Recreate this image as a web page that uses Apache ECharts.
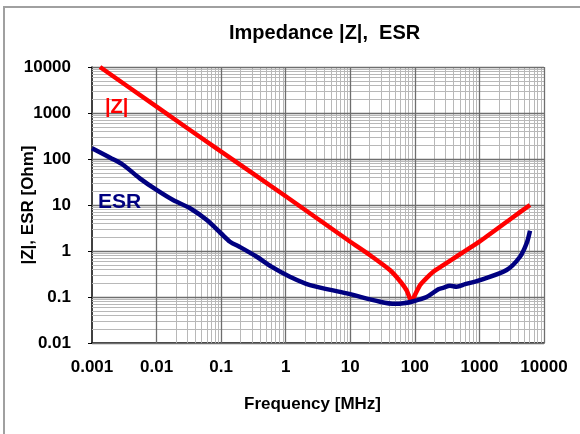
<!DOCTYPE html>
<html>
<head>
<meta charset="utf-8">
<script src="https://cdn.jsdelivr.net/npm/echarts@6/dist/echarts.min.js"></script>
<style>html,body{margin:0;padding:0;background:#fff;}#c{width:580px;height:434px;}</style>
</head>
<body>
<div id="c"></div>
<script>
// Frequency in MHz, values in Ohm
const freqZ = [0.00133, 0.01, 0.1, 1, 10, 20, 41, 60, 75, 89, 100, 120, 150, 193, 250, 500, 1000, 3000, 6070];
const valZ  = [10000, 1370, 144, 15.5, 1.59, 0.82, 0.386, 0.215, 0.137, 0.08, 0.11, 0.18, 0.255, 0.355, 0.45, 0.85, 1.6, 4.9, 10];

const freqESR = [0.001, 0.002, 0.00305, 0.0055, 0.01, 0.018, 0.033, 0.06, 0.1, 0.137, 0.2, 0.356, 0.6, 1.16, 2.38, 8.8, 28.9, 50, 66, 89, 152, 231, 280, 350, 444, 600, 1020, 2640, 4250, 5380, 6070];
const valESR  = [171, 103, 74, 38, 21.2, 12.8, 8.5, 4.7, 2.4, 1.59, 1.2, 0.75, 0.456, 0.276, 0.182, 0.12, 0.079, 0.071, 0.073, 0.079, 0.10, 0.147, 0.16, 0.176, 0.168, 0.19, 0.234, 0.386, 0.75, 1.47, 2.77];

const xTicks = [0.001, 0.01, 0.1, 1, 10, 100, 1000, 10000];
const yTicks = [0.01, 0.1, 1, 10, 100, 1000, 10000];

const FONT = "'Liberation Sans', Arial, sans-serif";

function fmt(v) {
  const e = Math.round(Math.log10(v));
  return e < 0 ? Number(v).toFixed(-e) : String(Math.round(v));
}

// log grid lines (minor 2..9 per decade, then majors)
const minorX = [], minorY = [];
for (let i = 0; i < xTicks.length - 1; i++) for (let m = 2; m <= 9; m++) minorX.push(xTicks[i] * m);
for (let i = 0; i < yTicks.length - 1; i++) for (let m = 2; m <= 9; m++) minorY.push(yTicks[i] * m);
const minorStyle = { color: '#b8b8b8', width: 1, type: 'solid' };
const majorStyle = { color: '#6e6e6e', width: 1.3, type: 'solid' };
const gridLines = [];
minorX.forEach(v => gridLines.push({ xAxis: v, lineStyle: minorStyle }));
minorY.forEach(v => gridLines.push({ yAxis: v, lineStyle: minorStyle }));
xTicks.forEach(v => gridLines.push({ xAxis: v, lineStyle: majorStyle }));
yTicks.forEach(v => gridLines.push({ yAxis: v, lineStyle: majorStyle }));

const chart = echarts.init(document.getElementById('c'), null, { renderer: 'canvas' });
chart.setOption({
  animation: false,
  backgroundColor: '#fff',
  title: {
    text: 'Impedance |Z|,  ESR',
    left: 229, top: 23, padding: 0,
    textStyle: { fontFamily: FONT, fontSize: 20, fontWeight: 'bold', color: '#000' }
  },
  grid: { left: 92, top: 67, right: 36, bottom: 91 },
  xAxis: {
    type: 'log', logBase: 10, min: 0.001, max: 10000, interval: 1,
    name: 'Frequency [MHz]', nameLocation: 'middle', nameGap: 53, nameMoveOverlap: false,
    nameTextStyle: { fontFamily: FONT, fontSize: 17, fontWeight: 'bold', color: '#000', padding: [0, 11, 0, 0] },
    axisLine: { show: true, lineStyle: { color: '#000', width: 1.5 } },
    axisTick: { show: false },
    splitLine: { show: false },
    minorTick: { show: false }, minorSplitLine: { show: false },
    axisLabel: { formatter: fmt, margin: 16, fontFamily: FONT, fontSize: 17, fontWeight: 'bold', color: '#000', showMinLabel: true, showMaxLabel: true }
  },
  yAxis: {
    type: 'log', logBase: 10, min: 0.01, max: 10000, interval: 1,
    name: '|Z|, ESR [Ohm]', nameLocation: 'middle', nameGap: 55, nameMoveOverlap: false,
    nameTextStyle: { fontFamily: FONT, fontSize: 17, fontWeight: 'bold', color: '#000' },
    axisLine: { show: true, lineStyle: { color: '#000', width: 1.5 } },
    axisTick: { show: true, length: 4, inside: false, lineStyle: { color: '#000' } },
    splitLine: { show: false },
    minorTick: { show: false }, minorSplitLine: { show: false },
    axisLabel: { formatter: fmt, margin: 21, fontFamily: FONT, fontSize: 17, fontWeight: 'bold', color: '#000', showMinLabel: true, showMaxLabel: true }
  },
  series: [
    {
      name: 'grid', type: 'line', z: 1, silent: true,
      data: [[1, 1]], showSymbol: false, symbol: 'none',
      lineStyle: { opacity: 0 },
      markLine: { silent: true, z: 1, symbol: 'none', label: { show: false }, animation: false, data: gridLines }
    },
    {
      name: '|Z|', type: 'line', z: 3, symbol: 'none', smooth: 0.2,
      data: freqZ.map((f, i) => [f, valZ[i]]),
      lineStyle: { color: '#ff0000', width: 4.5 }, itemStyle: { color: '#ff0000' }
    },
    {
      name: 'ESR', type: 'line', z: 4, symbol: 'none', smooth: 0.3,
      data: freqESR.map((f, i) => [f, valESR[i]]),
      lineStyle: { color: '#000080', width: 4.5 }, itemStyle: { color: '#000080' }
    }
  ],
  graphic: [
    { type: 'rect', silent: true, z: -1, shape: { x: 4, y: 7, width: 620, height: 470 },
      style: { fill: 'none', stroke: '#a0a0a0', lineWidth: 2 } },
    { type: 'text', left: 105, top: 97, z: 10,
      style: { text: '|Z|', fill: '#ff0000', font: "bold 20px 'Liberation Sans', Arial, sans-serif" } },
    { type: 'text', left: 98, top: 192, z: 10,
      style: { text: 'ESR', fill: '#000080', font: "bold 21px 'Liberation Sans', Arial, sans-serif" } }
  ]
});
</script>
</body>
</html>
